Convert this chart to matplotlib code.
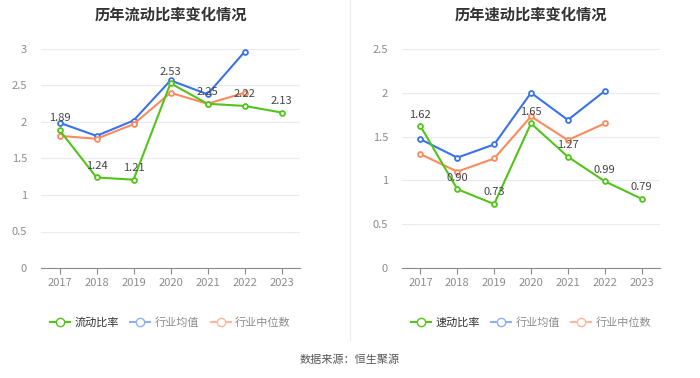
import numpy as np
import matplotlib.pyplot as plt
from matplotlib.lines import Line2D

plt.rcParams['font.family'] = ['Noto Sans CJK SC', 'DejaVu Sans']

years = ['2017', '2018', '2019', '2020', '2021', '2022', '2023']

# current ratio
cur_ratio = [1.89, 1.24, 1.21, 2.53, 2.25, 2.22, 2.13]
cur_avg = [1.99, 1.81, 2.02, 2.57, 2.38, 2.96]
cur_med = [1.81, 1.77, 1.97, 2.40, 2.25, 2.40]

# quick ratio
quick_ratio = [1.62, 0.90, 0.73, 1.65, 1.27, 0.99, 0.79]
quick_avg = [1.47, 1.26, 1.41, 2.00, 1.69, 2.02]
quick_med = [1.30, 1.10, 1.25, 1.73, 1.46, 1.65]

green = '#52c41a'
blue = '#3a72e8'
orange = '#fb8a5f'


def draw(ax, title, main, avg, med, ymax, yticks, name):
    x = np.arange(len(years))
    ax.plot(x[:len(avg)], avg, color=blue, lw=1.5, marker='o', ms=3.5,
            mfc='white', mec=blue, mew=1.3, zorder=3)
    ax.plot(x[:len(med)], med, color=orange, lw=1.5, marker='o', ms=3.5,
            mfc='white', mec=orange, mew=1.3, zorder=3)
    ax.plot(x, main, color=green, lw=1.5, marker='o', ms=3.5,
            mfc='white', mec=green, mew=1.3, zorder=4)
    for xi, v in zip(x, main):
        ax.text(xi, v + ymax * 0.03, '%.2f' % v, ha='center', va='bottom',
                fontsize=8, color='#444444', zorder=5)
    ax.set_xlim(-0.5, len(years) - 0.5)
    ax.set_ylim(0, ymax)
    ax.set_yticks(yticks)
    ax.set_yticklabels([('%g' % t) for t in yticks])
    ax.set_xticks(x)
    ax.set_xticklabels(years)
    ax.tick_params(axis='y', length=0, labelsize=8, labelcolor='#8c8c8c', pad=10)
    ax.tick_params(axis='x', length=4, color='#8c8c8c', labelsize=8,
                   labelcolor='#8c8c8c')
    ax.grid(axis='y', color='#e6ebf5', lw=0.8)
    ax.set_axisbelow(True)
    for s in ['top', 'right', 'left']:
        ax.spines[s].set_visible(False)
    ax.spines['bottom'].set_color('#8c8c8c')
    ax.set_title(title, fontsize=11, fontweight='bold', color='#333333', pad=21)

    handles = [
        Line2D([], [], color=green, marker='o', mfc='white', mec=green, ms=6, lw=1.5),
        Line2D([], [], color='#8fb0f2', marker='o', mfc='white', mec='#8fb0f2', ms=6, lw=1.5),
        Line2D([], [], color='#fcb89d', marker='o', mfc='white', mec='#fcb89d', ms=6, lw=1.5),
    ]
    leg = ax.legend(handles, [name, '行业均值', '行业中位数'], loc='upper center',
                    bbox_to_anchor=(0.5, -0.18), ncol=3, frameon=False,
                    fontsize=8, handlelength=1.8, columnspacing=1.0,
                    handletextpad=0.4)
    texts = leg.get_texts()
    texts[0].set_color('#333333')
    texts[1].set_color('#8c8c8c')
    texts[2].set_color('#8c8c8c')


fig = plt.figure(figsize=(7, 3.78), dpi=100)
ax1 = fig.add_axes([41 / 700, 1 - 268 / 378, 259 / 700, 219 / 378])
ax2 = fig.add_axes([402 / 700, 1 - 268 / 378, 258 / 700, 219 / 378])

draw(ax1, '历年流动比率变化情况', cur_ratio, cur_avg, cur_med, 3,
     [0, 0.5, 1, 1.5, 2, 2.5, 3], '流动比率')
draw(ax2, '历年速动比率变化情况', quick_ratio, quick_avg, quick_med, 2.5,
     [0, 0.5, 1, 1.5, 2, 2.5], '速动比率')

fig.add_artist(Line2D([350 / 700, 350 / 700], [1 - 340 / 378, 1],
                      color='#eeeeee', lw=0.8))
fig.text(0.5, 1 - 360 / 378, '数据来源：恒生聚源', ha='center', va='center',
         fontsize=8, color='#555555')

fig.savefig('out.png', dpi=100)
